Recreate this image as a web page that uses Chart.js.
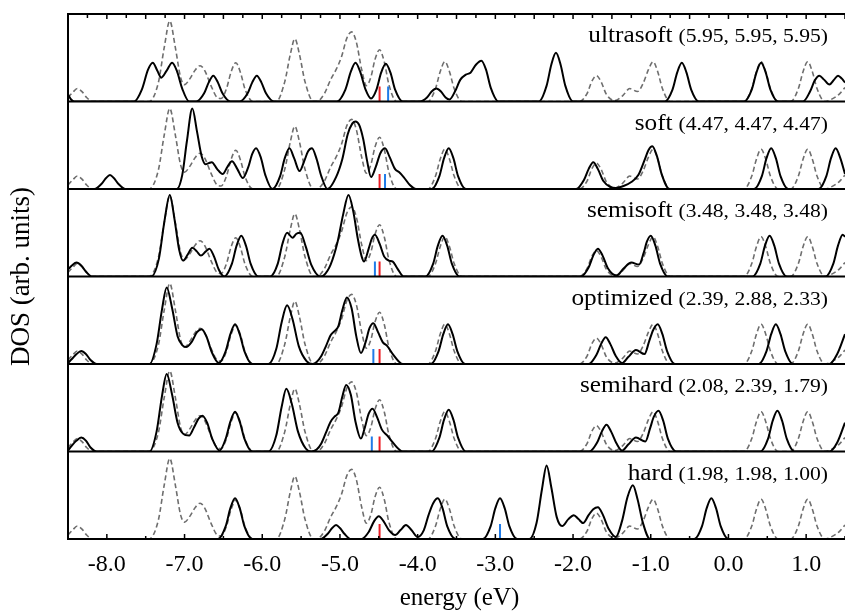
<!DOCTYPE html>
<html>
<head>
<meta charset="utf-8">
<script src="https://cdn.jsdelivr.net/npm/chart.js@4.4.1/dist/chart.umd.min.js"></script>
<style>
  html, body { margin: 0; padding: 0; background: #fff; }
</style>
</head>
<body>
<canvas id="dosChart" width="845" height="615"></canvas>
<script>
// panels, top to bottom
const panelNames = ['ultrasoft', 'soft', 'semisoft', 'optimized', 'semihard', 'hard'];
const panelParams = ['(5.95, 5.95, 5.95)', '(4.47, 4.47, 4.47)', '(3.48, 3.48, 3.48)',
                     '(2.39, 2.88, 2.33)', '(2.08, 2.39, 1.79)', '(1.98, 1.98, 1.00)'];

const xTickLabels = [-8, -7, -6, -5, -4, -3, -2, -1, 0, 1];

// reference DOS (dashed), same in every panel: [energy, dos]
const referenceDos = [
  [-8.5, 4], [-8.44, 9], [-8.38, 13], [-8.32, 10], [-8.26, 4], [-8.18, 0],
  [-7.46, 0], [-7.34, 18], [-7.26, 55], [-7.19, 81], [-7.12, 55], [-7.05, 24], [-7.0, 17], [-6.93, 23],
  [-6.86, 32], [-6.8, 36], [-6.74, 31], [-6.66, 16], [-6.58, 4], [-6.53, 3], [-6.46, 13], [-6.4, 30],
  [-6.34, 39], [-6.28, 29], [-6.22, 12], [-6.12, 0],
  [-5.82, 0], [-5.71, 20], [-5.64, 47], [-5.58, 63], [-5.52, 47], [-5.45, 20], [-5.34, 0],
  [-5.3, 0], [-5.2, 8], [-5.12, 22], [-5.05, 32], [-4.98, 45], [-4.91, 64], [-4.85, 70], [-4.79, 60],
  [-4.72, 32], [-4.66, 16], [-4.6, 25], [-4.55, 42], [-4.49, 52], [-4.43, 40], [-4.37, 17], [-4.27, 0],
  [-3.87, 0], [-3.77, 13], [-3.71, 30], [-3.65, 40], [-3.59, 30], [-3.53, 13], [-3.43, 0],
  [-1.92, 0], [-1.82, 8], [-1.76, 20], [-1.7, 26], [-1.64, 20], [-1.57, 7], [-1.46, 1], [-1.36, 6],
  [-1.27, 13], [-1.17, 10], [-1.1, 18], [-1.03, 32], [-0.97, 40], [-0.91, 30], [-0.85, 13], [-0.75, 0],
  [0.2, 0], [0.3, 13], [0.36, 30], [0.42, 40], [0.48, 30], [0.54, 13], [0.64, 0],
  [0.8, 0], [0.9, 13], [0.96, 30], [1.02, 40], [1.08, 30], [1.14, 13], [1.24, 0],
  [1.32, 2], [1.42, 7], [1.5, 14]
];

const ultrasoftDos = [
  [-8.5, 7], [-8.46, 2], [-8.42, 0],
  [-7.65, 0], [-7.55, 12], [-7.47, 32], [-7.41, 39], [-7.35, 31], [-7.3, 24], [-7.23, 31], [-7.16, 39],
  [-7.1, 31], [-7.03, 13], [-6.94, 0],
  [-6.85, 0], [-6.75, 8], [-6.69, 19], [-6.63, 26], [-6.57, 19], [-6.51, 8], [-6.41, 0],
  [-6.29, 0], [-6.19, 8], [-6.13, 19], [-6.07, 26], [-6.01, 19], [-5.95, 8], [-5.85, 0],
  [-5.04, 0], [-4.93, 12], [-4.86, 30], [-4.8, 39], [-4.74, 30], [-4.67, 12], [-4.6, 3], [-4.53, 12],
  [-4.47, 29], [-4.41, 38], [-4.35, 29], [-4.29, 12], [-4.19, 0],
  [-3.97, 0], [-3.88, 4], [-3.82, 10], [-3.76, 13], [-3.7, 10], [-3.64, 4], [-3.59, 2], [-3.52, 10],
  [-3.45, 22], [-3.38, 27], [-3.32, 29], [-3.25, 37], [-3.18, 41], [-3.12, 32], [-3.06, 14], [-2.96, 0],
  [-2.44, 0], [-2.34, 16], [-2.28, 37], [-2.22, 49], [-2.16, 37], [-2.1, 16], [-2.0, 0],
  [-0.82, 0], [-0.72, 12], [-0.66, 29], [-0.6, 39], [-0.54, 29], [-0.48, 12], [-0.38, 0],
  [0.2, 0], [0.3, 12], [0.36, 29], [0.42, 39], [0.48, 29], [0.54, 12], [0.64, 0],
  [0.96, 0], [1.05, 10], [1.11, 21], [1.17, 26], [1.23, 22], [1.3, 17], [1.36, 22], [1.41, 26],
  [1.46, 23], [1.5, 19]
];

const softDos = [
  [-8.5, 0], [-8.16, 0], [-8.07, 5], [-8.01, 11], [-7.96, 14], [-7.91, 11], [-7.85, 5], [-7.76, 0],
  [-7.1, 0], [-7.03, 14], [-6.97, 48], [-6.9, 81], [-6.84, 58], [-6.78, 33], [-6.73, 25], [-6.69, 26],
  [-6.65, 27], [-6.58, 20], [-6.51, 15], [-6.45, 22], [-6.39, 28], [-6.32, 20], [-6.25, 11], [-6.18, 22],
  [-6.13, 35], [-6.08, 41], [-6.02, 32], [-5.96, 14], [-5.87, 0],
  [-5.77, 13], [-5.71, 31], [-5.65, 41], [-5.59, 31], [-5.52, 18], [-5.46, 28], [-5.41, 38], [-5.36, 41],
  [-5.3, 30], [-5.24, 13], [-5.16, 0],
  [-5.05, 12], [-4.97, 30], [-4.9, 55], [-4.84, 66], [-4.8, 68], [-4.75, 64], [-4.7, 50], [-4.65, 28],
  [-4.6, 12], [-4.54, 22], [-4.48, 36], [-4.42, 41], [-4.36, 32], [-4.29, 20], [-4.24, 17], [-4.18, 12],
  [-4.1, 4], [-4.02, 0],
  [-3.82, 0], [-3.72, 13], [-3.66, 31], [-3.6, 41], [-3.54, 31], [-3.48, 13], [-3.38, 0],
  [-1.96, 0], [-1.86, 9], [-1.8, 20], [-1.74, 27], [-1.68, 20], [-1.61, 8], [-1.52, 2], [-1.45, 1],
  [-1.35, 3], [-1.25, 7], [-1.16, 14], [-1.08, 29], [-1.03, 39], [-0.98, 43], [-0.92, 33], [-0.86, 15],
  [-0.76, 0],
  [0.33, 0], [0.43, 13], [0.49, 31], [0.55, 41], [0.61, 31], [0.67, 13], [0.77, 0],
  [1.16, 0], [1.26, 13], [1.32, 31], [1.38, 41], [1.44, 31], [1.5, 15]
];

const semisoftDos = [
  [-8.5, 7], [-8.45, 11], [-8.39, 14], [-8.33, 11], [-8.27, 5], [-8.19, 0],
  [-7.43, 0], [-7.33, 18], [-7.26, 55], [-7.19, 82], [-7.13, 58], [-7.07, 27], [-7.02, 16], [-6.96, 22],
  [-6.9, 29], [-6.84, 25], [-6.79, 21], [-6.73, 25], [-6.68, 28], [-6.62, 20], [-6.56, 7], [-6.49, 0],
  [-6.39, 13], [-6.33, 31], [-6.27, 41], [-6.21, 31], [-6.15, 13], [-6.05, 0],
  [-5.9, 0], [-5.8, 13], [-5.74, 33], [-5.68, 44], [-5.61, 39], [-5.56, 43], [-5.51, 44], [-5.44, 30],
  [-5.37, 12], [-5.25, 0],
  [-5.21, 1], [-5.12, 12], [-5.03, 35], [-4.96, 62], [-4.89, 82], [-4.83, 66], [-4.77, 38], [-4.72, 20],
  [-4.69, 15], [-4.63, 28], [-4.59, 38], [-4.55, 42], [-4.49, 33], [-4.43, 20], [-4.37, 16], [-4.32, 15],
  [-4.26, 8], [-4.18, 0],
  [-3.9, 0], [-3.8, 13], [-3.74, 31], [-3.68, 41], [-3.62, 31], [-3.56, 13], [-3.46, 0],
  [-1.9, 0], [-1.8, 9], [-1.74, 21], [-1.68, 28], [-1.62, 21], [-1.55, 8], [-1.44, 1], [-1.35, 8],
  [-1.25, 14], [-1.15, 12], [-1.09, 24], [-1.05, 35], [-1.0, 41], [-0.94, 31], [-0.88, 13], [-0.78, 0],
  [0.31, 0], [0.41, 13], [0.47, 31], [0.53, 41], [0.59, 31], [0.65, 13], [0.75, 0],
  [1.25, 0], [1.35, 13], [1.41, 31], [1.47, 42], [1.5, 40]
];

const optimizedDos = [
  [-8.5, 1], [-8.45, 5], [-8.39, 10], [-8.33, 13], [-8.27, 10], [-8.21, 4], [-8.13, 0],
  [-7.45, 0], [-7.36, 20], [-7.29, 55], [-7.23, 77], [-7.16, 56], [-7.09, 28], [-7.03, 19], [-6.98, 17],
  [-6.91, 22], [-6.84, 32], [-6.78, 35], [-6.72, 28], [-6.65, 12], [-6.56, 1], [-6.47, 13], [-6.41, 30],
  [-6.35, 40], [-6.29, 30], [-6.23, 13], [-6.13, 0],
  [-5.92, 0], [-5.82, 15], [-5.75, 42], [-5.68, 59], [-5.61, 45], [-5.53, 18], [-5.43, 3], [-5.35, 0],
  [-5.3, 2], [-5.24, 8], [-5.18, 18], [-5.12, 29], [-5.07, 33], [-5.02, 38], [-4.97, 54], [-4.91, 67],
  [-4.85, 56], [-4.79, 28], [-4.73, 11], [-4.67, 22], [-4.62, 36], [-4.57, 41], [-4.51, 32], [-4.45, 22],
  [-4.39, 18], [-4.32, 10], [-4.19, 0],
  [-3.83, 0], [-3.73, 13], [-3.67, 30], [-3.61, 40], [-3.55, 30], [-3.49, 13], [-3.39, 0],
  [-1.8, 0], [-1.7, 9], [-1.64, 20], [-1.58, 27], [-1.52, 20], [-1.45, 8], [-1.37, 1], [-1.29, 7],
  [-1.19, 14], [-1.08, 10], [-1.02, 23], [-0.97, 34], [-0.91, 40], [-0.85, 30], [-0.79, 13], [-0.69, 0],
  [0.39, 0], [0.49, 13], [0.55, 30], [0.61, 40], [0.67, 30], [0.73, 13], [0.83, 0],
  [1.3, 0], [1.4, 10], [1.5, 30]
];

const semihardDos = [
  [-8.5, 1], [-8.45, 6], [-8.39, 11], [-8.33, 14], [-8.27, 11], [-8.21, 4], [-8.13, 0],
  [-7.45, 0], [-7.36, 20], [-7.29, 56], [-7.23, 78], [-7.16, 57], [-7.09, 29], [-7.02, 18], [-6.94, 16],
  [-6.88, 24], [-6.82, 33], [-6.77, 36], [-6.71, 29], [-6.64, 12], [-6.55, 1], [-6.47, 13], [-6.41, 30],
  [-6.35, 40], [-6.29, 30], [-6.23, 13], [-6.13, 0],
  [-5.92, 0], [-5.82, 16], [-5.75, 45], [-5.69, 63], [-5.62, 48], [-5.54, 20], [-5.44, 3], [-5.37, 0],
  [-5.3, 2], [-5.24, 8], [-5.18, 19], [-5.12, 30], [-5.07, 35], [-5.02, 39], [-4.97, 55], [-4.92, 67],
  [-4.86, 57], [-4.8, 30], [-4.73, 13], [-4.68, 24], [-4.63, 38], [-4.58, 43], [-4.52, 34], [-4.46, 22],
  [-4.39, 16], [-4.32, 9], [-4.19, 0],
  [-3.82, 0], [-3.72, 14], [-3.66, 32], [-3.6, 42], [-3.54, 32], [-3.48, 14], [-3.38, 0],
  [-1.79, 0], [-1.69, 9], [-1.63, 20], [-1.57, 27], [-1.51, 20], [-1.44, 8], [-1.37, 1], [-1.29, 7],
  [-1.19, 14], [-1.07, 10], [-1.01, 23], [-0.96, 35], [-0.9, 41], [-0.84, 31], [-0.78, 13], [-0.67, 0],
  [0.41, 0], [0.51, 13], [0.57, 31], [0.63, 41], [0.69, 31], [0.75, 13], [0.85, 0],
  [1.3, 0], [1.4, 9], [1.5, 29]
];

const hardDos = [
  [-8.5, 0], [-6.57, 0], [-6.47, 13], [-6.41, 31], [-6.35, 41], [-6.29, 31], [-6.23, 13], [-6.13, 0],
  [-5.25, 0], [-5.16, 5], [-5.1, 11], [-5.05, 14], [-5.0, 11], [-4.94, 5], [-4.86, 0],
  [-4.72, 0], [-4.63, 7], [-4.56, 18], [-4.5, 23], [-4.44, 18], [-4.37, 9], [-4.29, 4], [-4.22, 9],
  [-4.15, 14], [-4.08, 9], [-4.0, 2], [-3.92, 9], [-3.86, 24], [-3.8, 36], [-3.74, 41], [-3.68, 31],
  [-3.62, 13], [-3.51, 0],
  [-3.16, 0], [-3.06, 13], [-3.0, 31], [-2.94, 41], [-2.88, 31], [-2.82, 13], [-2.72, 0],
  [-2.56, 0], [-2.47, 16], [-2.4, 50], [-2.34, 74], [-2.28, 52], [-2.21, 22], [-2.14, 13], [-2.06, 20],
  [-1.99, 24], [-1.93, 20], [-1.87, 16], [-1.8, 24], [-1.74, 30], [-1.68, 32], [-1.62, 25], [-1.54, 10],
  [-1.45, 2], [-1.37, 18], [-1.3, 42], [-1.23, 54], [-1.17, 40], [-1.1, 16], [-1.01, 0],
  [-0.44, 0], [-0.34, 13], [-0.28, 31], [-0.22, 41], [-0.16, 31], [-0.1, 13], [0.0, 0], [1.5, 0]
];

const solidDos = [ultrasoftDos, softDos, semisoftDos, optimizedDos, semihardDos, hardDos];

// red / blue level markers, one of each per panel (energy)
const redLevels = [-4.49, -4.49, -4.49, -4.49, -4.49, -4.49];
const blueLevels = [-4.38, -4.42, -4.55, -4.57, -4.59, -2.94];
const markerHeight = 15;
const panelTop = 88;

const serif = '"Liberation Serif", "Times New Roman", serif';

const datasets = [];
panelNames.forEach((name, i) => {
    const yId = 'y' + i;
    datasets.push({
        label: name,
        data: solidDos[i],
        yAxisID: yId,
        borderColor: '#000',
        borderWidth: 2,
        cubicInterpolationMode: 'monotone',
        order: 1
    });
    datasets.push({
        label: name + ' reference',
        data: referenceDos,
        yAxisID: yId,
        borderColor: '#6e6e6e',
        borderWidth: 1.6,
        borderDash: [5, 3],
        cubicInterpolationMode: 'monotone',
        order: 2
    });
    datasets.push({
        label: name + ' red',
        data: [[redLevels[i], 0], [redLevels[i], markerHeight]],
        yAxisID: yId,
        borderColor: '#ec1c24',
        borderWidth: 2,
        order: 0
    });
    datasets.push({
        label: name + ' blue',
        data: [[blueLevels[i], 0], [blueLevels[i], markerHeight]],
        yAxisID: yId,
        borderColor: '#1f7be8',
        borderWidth: 2,
        order: 0
    });
});

const scales = {
    x: {
        type: 'linear',
        position: 'bottom',
        min: -8.5,
        max: 1.5,
        grid: { display: false },
        border: { display: false },
        afterBuildTicks: (scale) => {
            scale.ticks = xTickLabels.map(v => ({ value: v }));
        },
        afterFit: (scale) => { scale.height = 76; },
        ticks: {
            autoSkip: false,
            maxRotation: 0,
            padding: 3,
            color: '#000',
            font: { family: serif, size: 24 },
            callback: (v) => Number(v).toFixed(1)
        }
    }
};
// bottom panel first so the last one defined sits on top of the stack
for (let i = panelNames.length - 1; i >= 0; i--) {
    scales['y' + i] = {
        type: 'linear',
        position: 'left',
        stack: 'dos',
        stackWeight: 1,
        min: 0,
        max: panelTop,
        grid: { display: false },
        border: { display: false },
        ticks: { display: false },
        afterFit: (scale) => { scale.width = 0; }
    };
}

function drawStretched(ctx, text, xRight, y, font, stretch) {
    ctx.font = font;
    const w = ctx.measureText(text).width * stretch;
    ctx.save();
    ctx.translate(xRight - w, y);
    ctx.scale(stretch, 1);
    ctx.textAlign = 'left';
    ctx.textBaseline = 'alphabetic';
    ctx.fillText(text, 0, 0);
    ctx.restore();
    return w;
}

const frameAndLabels = {
    id: 'frameAndLabels',
    afterDatasetsDraw(chart) {
        const ctx = chart.ctx;
        const area = chart.chartArea;
        const xs = chart.scales.x;
        ctx.save();
        ctx.strokeStyle = '#000';
        ctx.lineWidth = 2;
        ctx.beginPath();
        ctx.moveTo(area.right, area.top);
        ctx.lineTo(area.left, area.top);
        ctx.lineTo(area.left, area.bottom);
        ctx.lineTo(area.right, area.bottom);
        panelNames.forEach((name, i) => {
            const ys = chart.scales['y' + i];
            ctx.moveTo(area.left, ys.bottom);
            ctx.lineTo(area.right, ys.bottom);
        });
        ctx.stroke();

        // ticks: top every 0.25 eV, bottom every 0.5 eV
        ctx.lineWidth = 1.5;
        ctx.beginPath();
        for (let k = -34; k <= 6; k++) {
            const v = k * 0.25;
            const px = xs.getPixelForValue(v);
            const len = (k % 2 === 0) ? 5 : 4;
            ctx.moveTo(px, area.top);
            ctx.lineTo(px, area.top + len);
            if (k % 2 === 0) {
                const blen = (k % 4 === 0) ? 5 : 3;
                ctx.moveTo(px, area.bottom);
                ctx.lineTo(px, area.bottom - blen);
            }
        }
        ctx.stroke();

        // panel labels
        ctx.fillStyle = '#000';
        panelNames.forEach((name, i) => {
            const ys = chart.scales['y' + i];
            const base = ys.top + 28;
            const w = drawStretched(ctx, panelParams[i], 828, base, '18px ' + serif, 1.2);
            drawStretched(ctx, name, 828 - w - 6, base, '23px ' + serif, 1.1);
        });

        // axis titles
        ctx.font = '25px ' + serif;
        ctx.textAlign = 'center';
        ctx.textBaseline = 'middle';
        ctx.fillText('energy (eV)', (area.left + area.right) / 2 + 3, 598);
        ctx.save();
        ctx.translate(22, (area.top + area.bottom) / 2);
        ctx.rotate(-Math.PI / 2);
        ctx.font = '27px ' + serif;
        ctx.fillText('DOS (arb. units)', 0, 0);
        ctx.restore();
        ctx.restore();
    }
};

new Chart(document.getElementById('dosChart').getContext('2d'), {
    type: 'line',
    data: { datasets },
    options: {
        responsive: false,
        animation: false,
        layout: { padding: { left: 68, top: 14, right: 0, bottom: 0 } },
        elements: { point: { radius: 0, hoverRadius: 0 } },
        plugins: {
            legend: { display: false },
            tooltip: { enabled: false }
        },
        scales
    },
    plugins: [frameAndLabels]
});
</script>
</body>
</html>
